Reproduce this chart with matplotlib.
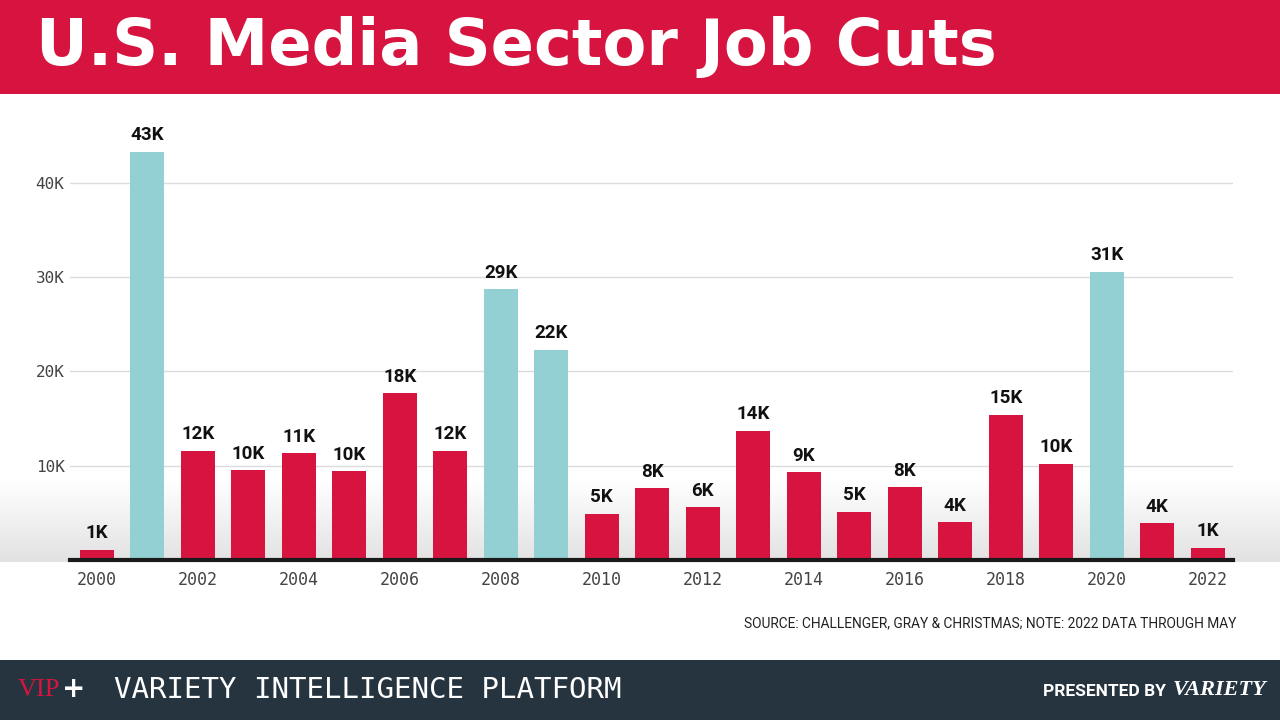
import numpy as np
import matplotlib
matplotlib.use('Agg')
import matplotlib.pyplot as plt
from matplotlib.patches import Rectangle

years = list(range(2000, 2023))
cuts = [1.1, 43.3, 11.6, 9.5, 11.3, 9.4, 17.7, 11.6, 28.7, 22.3, 4.9, 7.6,
        5.6, 13.7, 9.3, 5.1, 7.7, 4.0, 15.4, 10.2, 30.6, 3.9, 1.3]  # thousands
labels = ['1K', '43K', '12K', '10K', '11K', '10K', '18K', '12K', '29K', '22K', '5K', '8K',
          '6K', '14K', '9K', '5K', '8K', '4K', '15K', '10K', '31K', '4K', '1K']
recession = [2001, 2008, 2009, 2020]
yticks = [10, 20, 30, 40]

RED = '#D6143F'
TEAL = '#93D0D4'
NAVY = '#263440'

fig = plt.figure(figsize=(12.8, 7.2), dpi=100)
fig.patch.set_facecolor('white')

# header band
fig.patches.append(Rectangle((0, 1 - 94 / 720), 1, 94 / 720, transform=fig.transFigure,
                             facecolor=RED, edgecolor='none', zorder=0))
fig.text(36 / 1280, 1 - 47 / 720, 'U.S. Media Sector Job Cuts', color='white',
         fontsize=46, fontweight='bold', family='DejaVu Sans', va='center', ha='left')

# footer band
fig.patches.append(Rectangle((0, 0), 1, 60 / 720, transform=fig.transFigure,
                             facecolor=NAVY, edgecolor='none', zorder=0))
fig.text(18 / 1280, 30 / 720, 'VIP', color=RED, fontsize=19, family='Liberation Serif',
         va='center', ha='left')
fig.text(62 / 1280, 31 / 720, '+', color='white', fontsize=20, fontweight='bold',
         family='DejaVu Sans', va='center', ha='left')
fig.text(114 / 1280, 30 / 720, 'VARIETY INTELLIGENCE PLATFORM', color='white',
         fontsize=21, family='DejaVu Sans Mono', va='center', ha='left')
fig.text(1166 / 1280, 28 / 720, 'PRESENTED BY', color='white', fontsize=12.5,
         fontweight='bold', family='Roboto', va='center', ha='right')
fig.text(1266 / 1280, 30 / 720, 'VARIETY', color='white', fontsize=16,
         fontweight='bold', fontstyle='italic', family='Liberation Serif',
         va='center', ha='right')

fig.text(1236 / 1280, 1 - 623 / 720,
         'SOURCE: CHALLENGER, GRAY & CHRISTMAS; NOTE: 2022 DATA THROUGH MAY',
         color='#222222', fontsize=9.9, family='Roboto', va='center', ha='right')

# soft gray gradient band above baseline
grad = np.linspace(0, 1, 100).reshape(-1, 1)
gax = fig.add_axes([0, (720 - 562) / 720, 1, 82 / 720], zorder=0)
gax.imshow(grad, aspect='auto', cmap=matplotlib.colors.LinearSegmentedColormap.from_list(
    'g', ['white', '#e2e2e2']), origin='upper', extent=[0, 1, 0, 1])
gax.axis('off')

ax = fig.add_axes([70 / 1280, (720 - 560) / 720, 1163 / 1280, 460 / 720], zorder=1)
ax.patch.set_alpha(0)
x = np.arange(len(years))
colors = [TEAL if y in recession else RED for y in years]
ax.bar(x, cuts, width=0.67, color=colors, zorder=2)
for xi, v, lab in zip(x, cuts, labels):
    ax.text(xi, v + 0.8, lab, ha='center', va='bottom', fontsize=13.5,
            fontweight='bold', family='Roboto', color='#111111')

ax.set_xlim(-0.53, 22.5)
ax.set_ylim(0, 48.8)
ax.set_yticks(yticks)
ax.set_yticklabels([f'{t}K' for t in yticks], family='DejaVu Sans Mono', fontsize=11.5,
                   color='#444444')
ax.set_xticks(x[::2])
ax.set_xticklabels([str(y) for y in years[::2]], family='DejaVu Sans Mono', fontsize=12,
                   color='#444444')
ax.tick_params(axis='both', length=0)
ax.tick_params(axis='y', pad=4)
ax.tick_params(axis='x', pad=8)
ax.grid(axis='y', color='#dcdcdc', linewidth=1, zorder=0)
for s in ['top', 'right', 'left']:
    ax.spines[s].set_visible(False)
ax.spines['bottom'].set_color('#1a1a1a')
ax.spines['bottom'].set_linewidth(3)
ax.spines['bottom'].set_zorder(3)

plt.savefig('out.png', dpi=100, facecolor='white')
